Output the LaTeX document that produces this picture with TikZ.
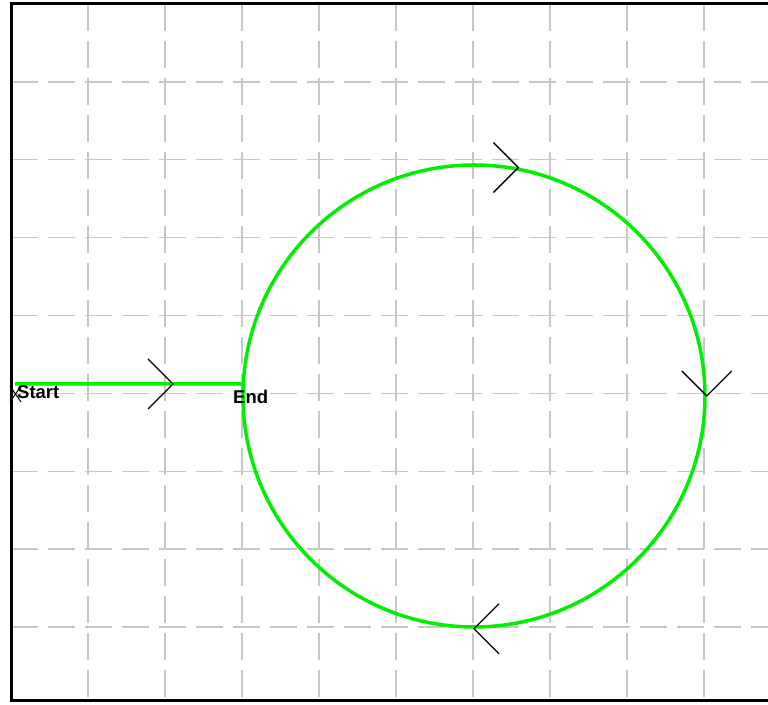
\documentclass[tikz,border=0pt]{standalone}
\usepackage{fontspec}
\setmainfont{Liberation Sans}
\usetikzlibrary{positioning}

\definecolor{trace}{RGB}{0,238,0}

\begin{document}
\begin{tikzpicture}[
  x=1pt, y=1pt,
  font=\fontsize{18.5}{20}\selectfont\bfseries,
  gridln/.style={draw=black!22, line width=1.3pt, dash pattern=on 27pt off 10pt},
  frame/.style={draw=black, line width=3pt},
  trail/.style={draw=trace, line width=3.5pt},
  chev/.style={draw=black, line width=1.4pt},
  chevron/.pic={\draw[chev] (-25,25) -- (0,0) -- (-25,-25);},
  lbl/.style={inner sep=0pt, anchor=west}]

  \useasboundingbox (0,0) rectangle (768,704);

  % grid
  \foreach \gx in {0,...,8}
    \draw[gridln] (88+77*\gx,700) -- (88+77*\gx,4);
  \foreach \gy in {0,...,7}
    \draw[gridln] (11,77+77.86*\gy) -- (768,77+77.86*\gy);

  % frame, open on the right
  \draw[frame] (768,700) -- (11,700) -- (11,4) -- (768,4);

  \node[circle, trail, minimum size=462pt, inner sep=0pt] (loop) at (474,308) {};
  \coordinate (start) at (15,320);
  \draw[trail] (start) -- (loop.177);

  \draw[chev, line width=1pt] (10,318) -- (21,302) (10,302) -- (21,318);
  \node[lbl] (startlbl) at (17,312) {Start};
  \node[lbl] (endlbl) at (233,307) {End};

  \pic at (173,320) {chevron};
  \pic at (loop.79) {chevron};
  \pic[rotate=-90] at (loop.east) {chevron};
  \pic[rotate=180] at (loop.south) {chevron};
\end{tikzpicture}
\end{document}
